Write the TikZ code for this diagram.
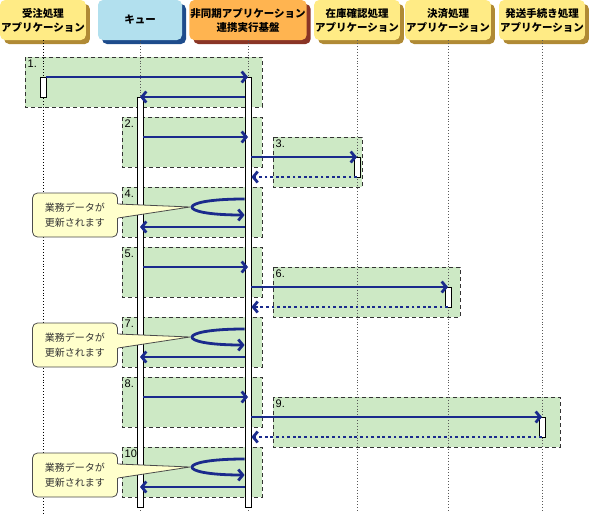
\documentclass[tikz,border=0pt]{standalone}
\usepackage{fontspec}
\setmainfont{Liberation Sans}
\newfontfamily\jpfont{Noto Sans CJK JP}
\usetikzlibrary{arrows.meta,shadows}

\definecolor{msgblue}{HTML}{1A2A8C}
\definecolor{grpgreen}{HTML}{CDE9C5}
\definecolor{appyellow}{HTML}{FFEB85}
\definecolor{appshade}{HTML}{B08A35}
\definecolor{quecyan}{HTML}{B2E0EE}
\definecolor{queshade}{HTML}{1E4C8C}
\definecolor{baseorange}{HTML}{FFB450}
\definecolor{baseshade}{HTML}{8A3526}
\definecolor{memoyellow}{HTML}{FFFFCC}

\tikzset{
  hdr/.style={rounded corners=5pt, minimum width=84pt, minimum height=40pt, align=center,
    inner sep=1pt, font=\jpfont\bfseries\fontsize{10.5}{14}\selectfont,
    drop shadow={shadow xshift=4pt, shadow yshift=-4pt, opacity=1, fill=#1}},
  grp/.style={draw=black!80, fill=grpgreen, dash pattern=on 4pt off 3pt, line width=0.9pt},
  life/.style={draw=black!65, dotted, line width=0.9pt},
  actbar/.style={draw, fill=white, minimum width=6pt, inner sep=0pt, line width=0.8pt},
  msg/.style={draw=msgblue, line width=2.8pt, -{Straight Barb[length=4.5pt,width=11pt]}},
  reply/.style={msg, dash pattern=on 2.8pt off 2.8pt},
  grpnum/.style={anchor=north west, inner sep=2.5pt, font=\fontsize{11}{12}\selectfont},
  memo/.style={draw=black!70, fill=memoyellow, rounded corners=5pt, line width=0.8pt,
    minimum width=85pt, minimum height=44pt, align=center, text=black!80,
    font=\jpfont\fontsize{10}{14.5}\selectfont},
  memoedge/.style={draw=black!70, line width=0.8pt}
}

\begin{document}
\begin{tikzpicture}[x=1pt,y=-1pt]
  \useasboundingbox (0,0) rectangle (590,517);

  % groups
  \draw[grp] (25,57) rectangle (262,107);   \node[grpnum] (g1) at (25,57) {1.};
  \draw[grp] (122,117) rectangle (262,167); \node[grpnum] (g2) at (122,117) {2.};
  \draw[grp] (273,137) rectangle (362,187); \node[grpnum] (g3) at (273,137) {3.};
  \draw[grp] (122,187) rectangle (262,237); \node[grpnum] (g4) at (122,187) {4.};
  \draw[grp] (122,247) rectangle (262,297); \node[grpnum] (g5) at (122,247) {5.};
  \draw[grp] (273,267) rectangle (460,317); \node[grpnum] (g6) at (273,267) {6.};
  \draw[grp] (122,317) rectangle (262,367); \node[grpnum] (g7) at (122,317) {7.};
  \draw[grp] (122,377) rectangle (262,427); \node[grpnum] (g8) at (122,377) {8.};
  \draw[grp] (273,397) rectangle (560,447); \node[grpnum] (g9) at (273,397) {9.};
  \draw[grp] (122,447) rectangle (262,497); \node[grpnum] (g10) at (122,447) {10.};

  % headers
  \node[hdr=appshade, fill=appyellow] (h1) at (43,20) {受注処理\\アプリケーション};
  \node[hdr=queshade, fill=quecyan] (h2) at (140,20) {キュー};
  \node[hdr=baseshade, fill=baseorange, minimum width=113pt] (h3) at (248,20)
    {非同期アプリケーション\\連携実行基盤};
  \node[hdr=appshade, fill=appyellow] (h4) at (357,20) {在庫確認処理\\アプリケーション};
  \node[hdr=appshade, fill=appyellow] (h5) at (448,20) {決済処理\\アプリケーション};
  \node[hdr=appshade, fill=appyellow] (h6) at (542,20) {発送手続き処理\\アプリケーション};

  % lifelines
  \draw[life, draw=black] (h1.south) -- (h1.south |- 0,515);
  \draw[life] (h2.south) -- (h2.south |- 0,512);
  \draw[life] (h3.south) -- (h3.south |- 0,512);
  \draw[life] (h4.south) -- (h4.south |- 0,512);
  \draw[life] (h5.south) -- (h5.south |- 0,512);
  \draw[life] (h6.south) -- (h6.south |- 0,512);

  % activation bars
  \node[actbar, minimum height=20pt] (b1) at (43,87) {};
  \node[actbar, minimum height=410pt] (b2) at (140,302) {};
  \node[actbar, minimum height=430pt] (b3) at (248,292) {};
  \node[actbar, minimum height=20pt] (b4) at (357,167) {};
  \node[actbar, minimum height=20pt] (b5) at (448,297) {};
  \node[actbar, minimum height=20pt] (b6) at (542,427) {};

  % messages
  \draw[msg] (b1.east |- 0,77) -- (b3 |- 0,77);
  \draw[msg] (b3.west |- 0,97) -- (b2 |- 0,97);
  \draw[msg] (b2.east |- 0,137) -- (b3 |- 0,137);
  \draw[msg] (b3.east |- 0,157) -- (b4 |- 0,157);
  \draw[reply] (b4 |- 0,177) -- (b3.east |- 0,177);
  \draw[msg] (b3.west |- 0,199) .. controls (175,199) and (175,215) .. (b3.west |- 0,215);
  \draw[msg] (b3.west |- 0,227) -- (b2 |- 0,227);
  \draw[msg] (b2.east |- 0,267) -- (b3 |- 0,267);
  \draw[msg] (b3.east |- 0,287) -- (b5 |- 0,287);
  \draw[reply] (b5 |- 0,307) -- (b3.east |- 0,307);
  \draw[msg] (b3.west |- 0,329) .. controls (175,329) and (175,345) .. (b3.west |- 0,345);
  \draw[msg] (b3.west |- 0,357) -- (b2 |- 0,357);
  \draw[msg] (b2.east |- 0,397) -- (b3 |- 0,397);
  \draw[msg] (b3.east |- 0,417) -- (b6 |- 0,417);
  \draw[reply] (b6 |- 0,437) -- (b3.east |- 0,437);
  \draw[msg] (b3.west |- 0,459) .. controls (175,459) and (175,475) .. (b3.west |- 0,475);
  \draw[msg] (b3.west |- 0,487) -- (b2 |- 0,487);

  % memos
  \node[memo] (m1) at (75,215) {業務データが\\更新されます};
  \fill[memoyellow] ([xshift=-1pt]m1.east |- 0,204) -- (190,207) -- ([xshift=-1pt]m1.east |- 0,218) -- cycle;
  \draw[memoedge] (m1.east |- 0,204) -- (190,207) -- (m1.east |- 0,218);
  \node[memo] (m2) at (75,345) {業務データが\\更新されます};
  \fill[memoyellow] ([xshift=-1pt]m2.east |- 0,334) -- (190,337) -- ([xshift=-1pt]m2.east |- 0,348) -- cycle;
  \draw[memoedge] (m2.east |- 0,334) -- (190,337) -- (m2.east |- 0,348);
  \node[memo] (m3) at (75,475) {業務データが\\更新されます};
  \fill[memoyellow] ([xshift=-1pt]m3.east |- 0,464) -- (190,467) -- ([xshift=-1pt]m3.east |- 0,478) -- cycle;
  \draw[memoedge] (m3.east |- 0,464) -- (190,467) -- (m3.east |- 0,478);
\end{tikzpicture}
\end{document}
